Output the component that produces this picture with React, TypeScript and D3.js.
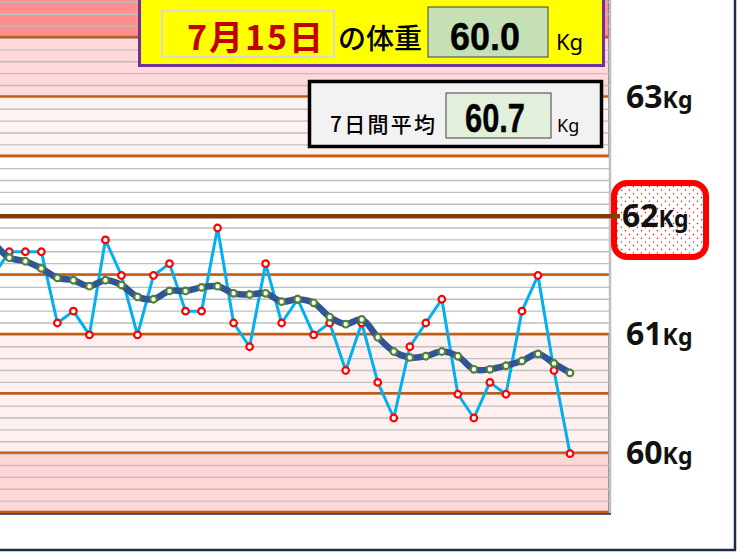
import { useMemo } from 'react';
import * as d3 from 'd3';

const WIDTH = 746;
const HEIGHT = 559;

// daily weight (kg); first value is the day before the visible window
const weights = [
  61.5, 61.7, 61.7, 61.7, 61.1, 61.2, 61.0, 61.8, 61.5, 61.0,
  61.5, 61.6, 61.2, 61.2, 61.9, 61.1, 60.9, 61.6, 61.1, 61.3,
  61.0, 61.1, 60.7, 61.1, 60.6, 60.3, 60.9, 61.1, 61.3, 60.5,
  60.3, 60.6, 60.5, 61.2, 61.5, 60.7, 60.0,
];

// 7-day moving average as plotted
const averages = [
  61.78, 61.65, 61.62, 61.56, 61.48, 61.46, 61.41, 61.46, 61.42, 61.32,
  61.30, 61.37, 61.37, 61.40, 61.41, 61.35, 61.34, 61.35, 61.28, 61.30,
  61.27, 61.15, 61.09, 61.13, 60.98, 60.86, 60.81, 60.82, 60.86, 60.82,
  60.71, 60.71, 60.74, 60.78, 60.84, 60.76, 60.68,
];

const dateLabel = '7月15日';
const axisLabels = [63, 62, 61, 60];
const halfLines = [59.5, 60, 60.5, 61, 61.5, 62.5, 63, 63.5];
const targetWeight = 62;

const bands: { lo: number; hi: number; fill: string }[] = [
  { lo: 63.5, hi: 64.2, fill: '#ff8f8f' },
  { lo: 63, hi: 63.5, fill: '#ffd9d9' },
  { lo: 62.5, hi: 63, fill: '#fff2f2' },
  { lo: 60, hi: 61, fill: '#fff0f0' },
  { lo: 59.5, hi: 60, fill: '#ffd7d7' },
];

const PLOT_RIGHT = 609;
const PLOT_BOTTOM = 513;

export default function App() {
  const y = d3.scaleLinear().domain([59.5, 63.5]).range([PLOT_BOTTOM, 38]);
  const x = d3.scaleLinear().domain([0, weights.length - 1]).range([-6.7, 570]);

  const minor = d3.range(595, 642).map((d) => d / 10);

  const dailyPath = useMemo(
    () =>
      d3
        .line<number>()
        .x((_, i) => x(i))
        .y((d) => y(d))(weights)!,
    []
  );
  const avgPath = useMemo(
    () =>
      d3
        .line<number>()
        .x((_, i) => x(i))
        .y((d) => y(d))
        .curve(d3.curveCatmullRom.alpha(0.5))(averages)!,
    []
  );

  const last = weights[weights.length - 1];
  const weekAvg = d3.mean(weights.slice(-7))!;

  const cjk = '"Noto Sans CJK JP", sans-serif';
  const sans = '"Noto Sans", sans-serif';
  const num = '"Liberation Sans", Arial, sans-serif';

  return (
    <svg
      width={WIDTH}
      height={HEIGHT}
      style={{ position: 'absolute', left: 0, top: 0 }}
    >
      <defs>
        <clipPath id="plot">
          <rect x={0} y={0} width={PLOT_RIGHT} height={PLOT_BOTTOM} />
        </clipPath>
        <pattern id="dots" width={8} height={7.4} patternUnits="userSpaceOnUse">
          <rect width={8} height={7.4} fill="#fff" />
          <circle cx={1.5} cy={1.5} r={0.75} fill="#ff0000" />
          <circle cx={5.5} cy={5.2} r={0.75} fill="#ff0000" />
        </pattern>
      </defs>
      <rect width={WIDTH} height={HEIGHT} fill="#fff" />

      {/* background bands */}
      {bands.map((b, i) => (
        <rect
          key={i}
          x={-3}
          y={y(b.hi)}
          width={PLOT_RIGHT + 3}
          height={y(b.lo) - y(b.hi)}
          fill={b.fill}
          stroke="#1f3864"
          strokeWidth={1}
        />
      ))}

      {/* 0.1 kg gridlines */}
      {minor.map((v) => (
        <line
          key={v}
          x1={0}
          x2={PLOT_RIGHT}
          y1={y(v)}
          y2={y(v)}
          stroke="#bfbfbf"
          strokeWidth={1.3}
        />
      ))}

      {/* 0.5 kg lines */}
      {halfLines.map((v) => (
        <line
          key={v}
          x1={0}
          x2={PLOT_RIGHT}
          y1={y(v) - 1}
          y2={y(v) - 1}
          stroke="#c55a11"
          strokeWidth={2.4}
        />
      ))}

      <line x1={610} x2={610} y1={0} y2={PLOT_BOTTOM + 1} stroke="#bfbfbf" strokeWidth={2.5} />
      <line x1={0} x2={611} y1={PLOT_BOTTOM + 1} y2={PLOT_BOTTOM + 1} stroke="#1f2d4d" strokeWidth={1.5} />

      {/* target box */}
      <rect
        x={614}
        y={183}
        width={92}
        height={74}
        rx={13}
        fill="url(#dots)"
        stroke="#ff0000"
        strokeWidth={6}
      />
      <line
        x1={0}
        x2={620}
        y1={y(targetWeight)}
        y2={y(targetWeight)}
        stroke="#843c0c"
        strokeWidth={4.5}
      />

      {/* series */}
      <g clipPath="url(#plot)">
        <path d={dailyPath} fill="none" stroke="#00b0f0" strokeWidth={3} strokeLinejoin="round" />
        {weights.map((d, i) => (
          <circle key={i} cx={x(i)} cy={y(d)} r={3.3} fill="#fff" stroke="#ff0000" strokeWidth={2.2} />
        ))}
        <path d={avgPath} fill="none" stroke="#2f5597" strokeWidth={6.5} strokeLinecap="round" />
        {averages.map((d, i) => (
          <circle key={i} cx={x(i)} cy={y(d)} r={3.3} fill="#fff" stroke="#548235" strokeWidth={2.2} />
        ))}
      </g>

      {/* right labels */}
      {axisLabels.map((v) => (
        <text
          key={v}
          x={v === targetWeight ? 622 : 626}
          y={y(v) + 10.5}
          fontFamily={sans}
          fontWeight={700}
          fill="#111"
        >
          <tspan fontSize={32}>{v}</tspan>
          <tspan fontSize={23}>Kg</tspan>
        </text>
      ))}

      {/* outer frame */}
      <line x1={735} x2={735} y1={0} y2={551} stroke="#1f2d4d" strokeWidth={2.5} />
      <line x1={0} x2={736} y1={550} y2={550} stroke="#1f2d4d" strokeWidth={2.5} />

      {/* today's weight box */}
      <rect x={139.5} y={-5} width={464} height={70.5} fill="#ffff00" stroke="#7030a0" strokeWidth={3} />
      <rect x={162} y={11} width={172} height={46} fill="none" stroke="#d9d9d9" strokeWidth={2} />
      <text
        x={187}
        y={50}
        fontFamily={cjk}
        fontWeight={700}
        fontSize={34}
        fill="#c00000"
        textLength={136}
        lengthAdjust="spacing"
      >
        {dateLabel}
      </text>
      <text x={338} y={49} fontFamily={cjk} fontWeight={500} fontSize={28} fill="#000">
        の体重
      </text>
      <rect x={428} y={7} width={120} height={50} fill="#c5e0b4" stroke="#404040" strokeWidth={1} />
      <text
        x={450}
        y={50}
        fontFamily={num}
        fontWeight={700}
        fontSize={38}
        fill="#000"
        stroke="#000"
        strokeWidth={0.4}
        textLength={70}
        lengthAdjust="spacingAndGlyphs"
      >
        {last.toFixed(1)}
      </text>
      <text x={556} y={50} fontFamily={sans} fontSize={22} fill="#000">
        Kg
      </text>

      {/* 7-day average box */}
      <rect x={309.5} y={81.5} width={292} height={65} fill="#f2f2f2" stroke="#000" strokeWidth={3.5} />
      <text
        x={330}
        y={132}
        fontFamily={cjk}
        fontWeight={500}
        fontSize={21}
        fill="#000"
        textLength={105}
        lengthAdjust="spacing"
      >
        7日間平均
      </text>
      <rect x={446} y={93} width={105} height={45} fill="#e2efda" stroke="#404040" strokeWidth={1} />
      <text
        x={465}
        y={132}
        fontFamily={num}
        fontWeight={700}
        fontSize={40}
        fill="#000"
        stroke="#000"
        strokeWidth={0.4}
        textLength={60}
        lengthAdjust="spacingAndGlyphs"
      >
        {weekAvg.toFixed(1)}
      </text>
      <text x={557} y={132} fontFamily={sans} fontSize={18} fill="#000">
        Kg
      </text>
    </svg>
  );
}
